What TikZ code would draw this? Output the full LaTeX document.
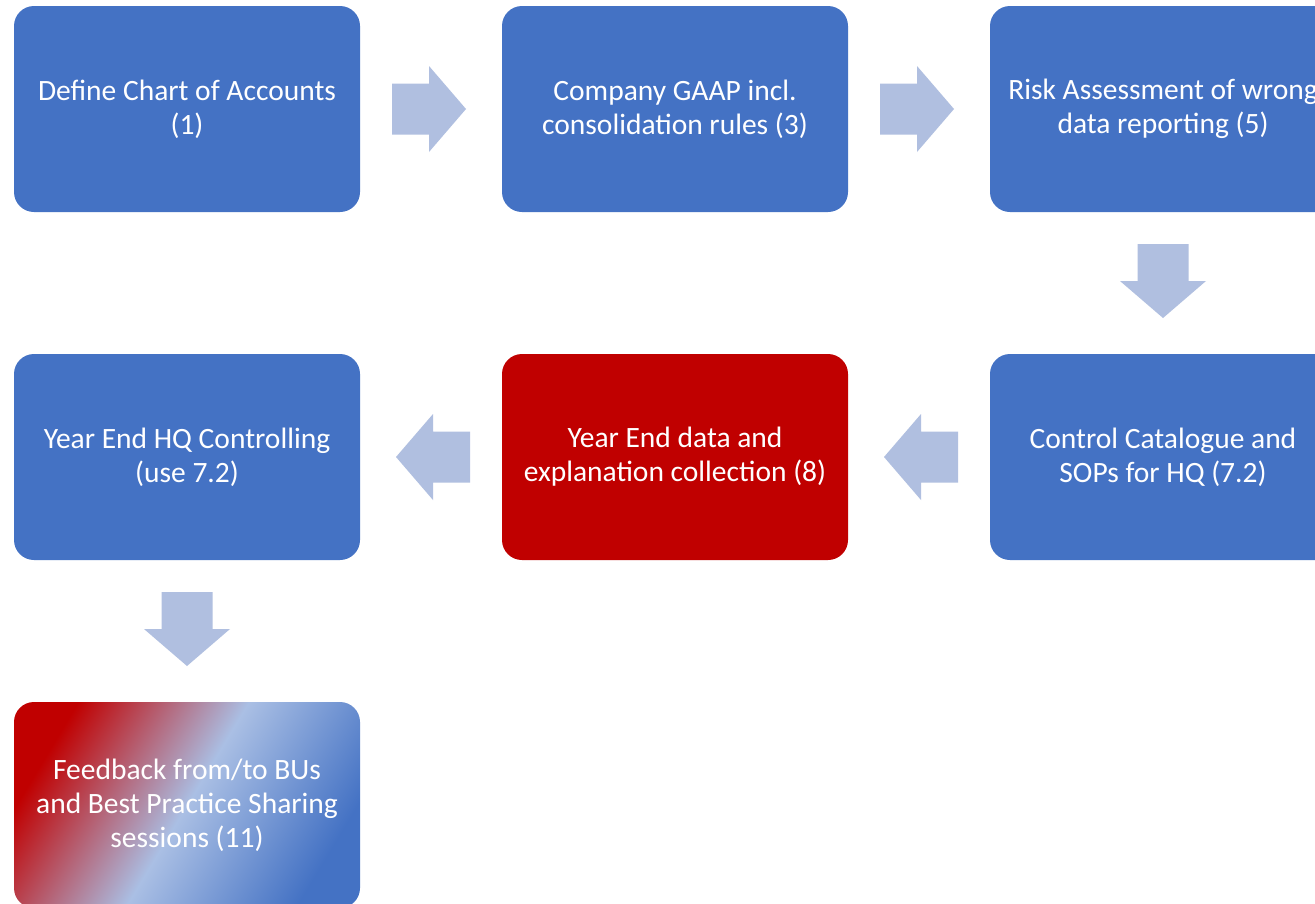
\documentclass[tikz,border=0pt]{standalone}
\usepackage{fontspec}
\setmainfont{Carlito}
\usetikzlibrary{calc}
\definecolor{boxblue}{HTML}{4472C4}
\definecolor{boxred}{HTML}{C00000}
\definecolor{arrowfill}{HTML}{B0BFE0}
\definecolor{lightband}{HTML}{AABFE4}
\begin{document}
\begin{tikzpicture}[x=1pt,y=-1pt,
  box/.style={rectangle, rounded corners=20pt, minimum width=346pt, minimum height=206pt,
    inner sep=0pt, text=white, align=center, font=\fontsize{29.5}{34}\selectfont},
  bluebox/.style={box, fill=boxblue},
  redbox/.style={box, fill=boxred},
  gradbox/.style={box, top color=boxred, bottom color=boxblue, middle color=lightband, shading angle=59},
  blockarrow/.pic={\fill[arrowfill] (-39,-25.5) -- (-2,-25.5) -- (-2,-43) -- (35,0) -- (-2,43) -- (-2,25.5) -- (-39,25.5) -- cycle;}
]
\useasboundingbox (0,0) rectangle (1315,903);
\clip (0,0) rectangle (1315,903);
\fill[white] (0,0) rectangle (1315,903);

\node[bluebox] (b1) at (187,109) {Define Chart of Accounts\\(1)};
\node[bluebox] (b2) at (675,109) {Company GAAP incl.\\consolidation rules (3)};
\node[bluebox] (b3) at (1163,109) {Risk Assessment of wrong\\data reporting (5)};
\node[bluebox] (b4) at (1163,457) {Control Catalogue and\\SOPs for HQ (7.2)};
\node[redbox] (b5) at (675,457) {Year End data and\\explanation collection (8)};
\node[bluebox] (b6) at (187,457) {Year End HQ Controlling\\(use 7.2)};
\node[gradbox] (b7) at (187,805) {Feedback from/to BUs\\and Best Practice Sharing\\sessions (11)};

\pic at ($(b1.east)!0.5!(b2.west)$) {blockarrow};
\pic at ($(b2.east)!0.5!(b3.west)$) {blockarrow};
\pic[rotate=-90] at ($(b3.south)!0.5!(b4.north)$) {blockarrow};
\pic[rotate=180] at ($(b4.west)!0.5!(b5.east)$) {blockarrow};
\pic[rotate=180] at ($(b5.west)!0.5!(b6.east)$) {blockarrow};
\pic[rotate=-90] at ($(b6.south)!0.5!(b7.north)$) {blockarrow};
\end{tikzpicture}
\end{document}
